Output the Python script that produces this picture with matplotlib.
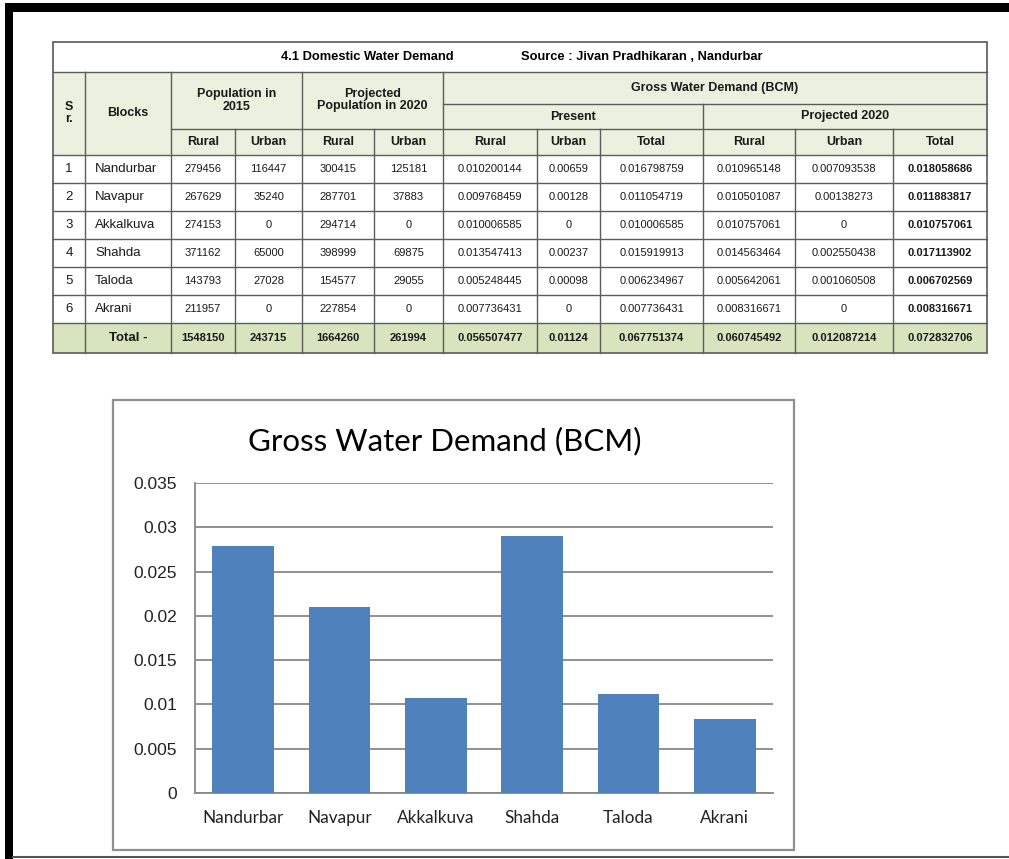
import matplotlib
matplotlib.use('Agg')
import matplotlib.pyplot as plt
from matplotlib.patches import Rectangle
import numpy as np

# table data
blocks = ['Nandurbar', 'Navapur', 'Akkalkuva', 'Shahda', 'Taloda', 'Akrani']
pop2015_rural = [279456, 267629, 274153, 371162, 143793, 211957]
pop2015_urban = [116447, 35240, 0, 65000, 27028, 0]
pop2020_rural = [300415, 287701, 294714, 398999, 154577, 227854]
pop2020_urban = [125181, 37883, 0, 69875, 29055, 0]
present_rural = [0.010200144, 0.009768459, 0.010006585, 0.013547413, 0.005248445, 0.007736431]
present_urban = [0.00659, 0.00128, 0, 0.00237, 0.00098, 0]
present_total = [0.016798759, 0.011054719, 0.010006585, 0.015919913, 0.006234967, 0.007736431]
proj_rural = [0.010965148, 0.010501087, 0.010757061, 0.014563464, 0.005642061, 0.008316671]
proj_urban = [0.007093538, 0.00138273, 0, 0.002550438, 0.001060508, 0]
proj_total = [0.018058686, 0.011883817, 0.010757061, 0.017113902, 0.006702569, 0.008316671]
totals = [1548150, 243715, 1664260, 261994, 0.056507477, 0.01124,
          0.067751374, 0.060745492, 0.012087214, 0.072832706]

# chart data
chart_title = 'Gross Water Demand (BCM)'
gross_demand = [0.0279, 0.0210, 0.0107, 0.0290, 0.0112, 0.0083]

ARIAL = ['Liberation Sans', 'DejaVu Sans']
CALIBRI = ['Lato', 'DejaVu Sans']

LINE = '#5c5c5c'
HEAD_FILL = '#ebf1de'
TOTAL_FILL = '#d7e4bd'
BAR = '#4f81bd'
GRID = '#888888'


def fmt(v):
    if isinstance(v, int):
        return str(v)
    return f'{v:.9f}'.rstrip('0').rstrip('.')


fig = plt.figure(figsize=(10.09, 8.59), dpi=100)

# background canvas in pixel coords
bg = fig.add_axes([0, 0, 1, 1])
bg.set_xlim(0, 1009)
bg.set_ylim(859, 0)
bg.axis('off')

# black page border
bg.add_patch(Rectangle((5, 3), 1004, 9, color='black', lw=0))
bg.add_patch(Rectangle((5, 3), 8, 856, color='black', lw=0))
bg.plot([13, 1009], [857, 857], color='#555555', lw=1.5)

# ---- table ----
xs = [53, 85, 171, 235, 302, 374, 443, 537, 600, 703, 795, 893, 987]
y_top, y_title, y_hA, y_hB, y_hC = 42, 72, 104, 129, 155
row_h = 28
n = len(blocks)
y_rows = [y_hC + i * row_h for i in range(n + 1)]
y_bot = y_rows[-1] + 30

bg.add_patch(Rectangle((xs[0], y_title), xs[-1] - xs[0], y_hC - y_title,
                       facecolor=HEAD_FILL, lw=0))
bg.add_patch(Rectangle((xs[0], y_rows[-1]), xs[-1] - xs[0], y_bot - y_rows[-1],
                       facecolor=TOTAL_FILL, lw=0))

def hline(y, x0, x1):
    bg.plot([x0, x1], [y, y], color=LINE, lw=1)

def vline(x, y0, y1):
    bg.plot([x, x], [y0, y1], color=LINE, lw=1)

hline(y_title, xs[0], xs[-1])
hline(y_hA, xs[6], xs[-1])
hline(y_hB, xs[2], xs[-1])
for y in y_rows:
    hline(y, xs[0], xs[-1])
for x in [xs[1], xs[2], xs[4], xs[6]]:
    vline(x, y_title, y_bot)
for x in [xs[3], xs[5], xs[7], xs[8], xs[10], xs[11]]:
    vline(x, y_hB, y_bot)
vline(xs[9], y_hA, y_bot)
bg.add_patch(Rectangle((xs[0], y_top), xs[-1] - xs[0], y_bot - y_top,
                       fill=False, edgecolor='#666666', lw=1.3))

def cell(x0, x1, y0, y1, s, size=8, bold=False, ha='center'):
    x = (x0 + x1) / 2 if ha == 'center' else x0
    bg.text(x, (y0 + y1) / 2, s, ha=ha, va='center', fontsize=size,
            fontweight='bold' if bold else 'normal', family=ARIAL,
            color='#1a1a1a', linespacing=1.0)

bg.text(281, 57, '4.1 Domestic Water Demand', ha='left', va='center',
        fontsize=9.3, fontweight='bold', family=ARIAL)
bg.text(521, 57, 'Source : Jivan Pradhikaran , Nandurbar', ha='left', va='center',
        fontsize=9.3, fontweight='bold', family=ARIAL)

cell(xs[0], xs[1], y_title, y_hC, 'S\nr.', 9, True)
cell(xs[1], xs[2], y_title, y_hC, 'Blocks', 9, True)
cell(xs[2], xs[4], y_title, y_hB, 'Population in\n2015', 9, True)
cell(xs[4], xs[6], y_title, y_hB, 'Projected\nPopulation in 2020', 9, True)
cell(xs[6], xs[-1], y_title, y_hA, 'Gross Water Demand (BCM)', 9, True)
cell(xs[6], xs[9], y_hA, y_hB, 'Present', 9, True)
cell(xs[9], xs[-1], y_hA, y_hB, 'Projected 2020', 9, True)
sub_heads = ['Rural', 'Urban', 'Rural', 'Urban', 'Rural', 'Urban', 'Total',
             'Rural', 'Urban', 'Total']
for j, s in enumerate(sub_heads):
    cell(xs[j + 2], xs[j + 3], y_hB, y_hC, s, 9, True)

cols = [pop2015_rural, pop2015_urban, pop2020_rural, pop2020_urban,
        present_rural, present_urban, present_total, proj_rural, proj_urban, proj_total]
for i in range(n):
    y0, y1 = y_rows[i], y_rows[i + 1]
    cell(xs[0], xs[1], y0, y1, str(i + 1), 9.5)
    cell(xs[1] + 10, xs[2], y0, y1, blocks[i], 9.5, ha='left')
    for j, col in enumerate(cols):
        cell(xs[j + 2], xs[j + 3], y0, y1, fmt(col[i]), 8, bold=(j == 9))

cell(xs[1], xs[2], y_rows[-1], y_bot, 'Total -', 9.5, True)
for j, v in enumerate(totals):
    cell(xs[j + 2], xs[j + 3], y_rows[-1], y_bot, fmt(v), 8, True)

# ---- chart ----
bg.add_patch(Rectangle((113, 400), 681, 450, fill=False, edgecolor='#8f8f8f', lw=1.6))
bg.text(445, 441, chart_title, ha='center', va='center', fontsize=22.5, family=CALIBRI)

ax = fig.add_axes([195 / 1009, 1 - 793 / 859, 578 / 1009, 310 / 859])
ax.patch.set_alpha(0)
x = np.arange(len(blocks))
ax.bar(x, gross_demand, width=0.64, color=BAR, zorder=3)
ax.set_xlim(-0.5, len(blocks) - 0.5)
ax.set_ylim(0, 0.035)
yt = np.round(np.arange(0, 0.0351, 0.005), 3)
ax.set_yticks(yt)
ax.set_yticklabels([f'{v:g}' for v in yt], family=ARIAL, fontsize=12.5)
ax.set_xticks(x)
ax.set_xticklabels(blocks, family=CALIBRI, fontsize=12.3)
ax.yaxis.grid(True, color=GRID, lw=1.3)
ax.set_axisbelow(True)
ax.tick_params(length=0, colors='#222222')
ax.tick_params(axis='y', pad=13)
ax.tick_params(axis='x', pad=12)
for side in ['top', 'right']:
    ax.spines[side].set_visible(False)
for side in ['left', 'bottom']:
    ax.spines[side].set_color(GRID)
    ax.spines[side].set_linewidth(1.3)

fig.savefig('out.png', dpi=100)
